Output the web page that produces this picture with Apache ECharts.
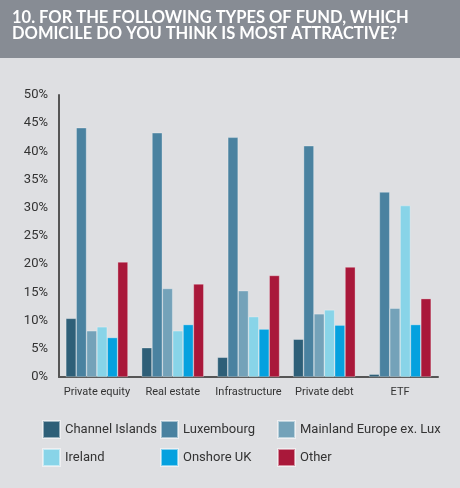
<!DOCTYPE html>
<html>
<head>
<meta charset="utf-8">
<script src="https://cdn.jsdelivr.net/npm/echarts@6/dist/echarts.min.js"></script>
<style>
  html, body { margin: 0; padding: 0; background: #dedfe2; }
  #chart { width: 460px; height: 488px; }
</style>
</head>
<body>
<div id="chart"></div>
<script>
var categories = ['Private equity', 'Real estate', 'Infrastructure', 'Private debt', 'ETF'];
var channelIslands = [10.4, 5.2, 3.5, 6.7, 0.5];
var luxembourg = [44.2, 43.3, 42.5, 41.0, 32.8];
var mainlandEurope = [8.2, 15.7, 15.3, 11.2, 12.2];
var ireland = [8.9, 8.2, 10.7, 11.9, 30.4];
var onshoreUK = [7.0, 9.3, 8.5, 9.2, 9.3];
var other = [20.4, 16.5, 18.0, 19.5, 13.9];

var chart = echarts.init(document.getElementById('chart'));
var font = 'Roboto';

function bar(name, data, color) {
  return {
    name: name,
    type: 'bar',
    data: data,
    barGap: '0%',
    barCategoryGap: '18%',
    itemStyle: { color: color, borderColor: 'rgba(255,255,255,0.5)', borderWidth: 0.6 }
  };
}

function legend(left, names) {
  return {
    left: left, top: 415, orient: 'vertical',
    itemWidth: 17, itemHeight: 17, itemGap: 9,
    icon: 'rect',
    data: names,
    textStyle: { fontFamily: font, fontSize: 13, color: '#333' },
    selectedMode: false
  };
}

chart.setOption({
  backgroundColor: '#dedfe2',
  graphic: [{
    type: 'rect', left: 0, top: 0,
    shape: { width: 460, height: 58 },
    style: { fill: '#878c94' }
  }],
  title: {
    text: '10. FOR THE FOLLOWING TYPES OF FUND, WHICH\nDOMICILE DO YOU THINK IS MOST ATTRACTIVE?',
    left: 7, top: 5,
    textStyle: { color: '#fff', fontFamily: 'Lato', fontWeight: 'bold', fontSize: 16.5, lineHeight: 16 }
  },
  legend: [
    legend(37, ['Channel Islands', 'Ireland']),
    legend(155, ['Luxembourg', 'Onshore UK']),
    legend(272, ['Mainland Europe ex. Lux', 'Other'])
  ],
  grid: { left: 59, right: 22, top: 95, bottom: 111, containLabel: false },
  xAxis: {
    type: 'category',
    data: categories,
    axisLine: { lineStyle: { color: '#555', width: 2 } },
    axisTick: { show: false },
    axisLabel: { interval: 0, fontFamily: font, fontSize: 11, color: '#333', margin: 10 }
  },
  yAxis: {
    type: 'value',
    min: 0, max: 50, interval: 5,
    axisLine: { show: true, lineStyle: { color: '#555', width: 2 } },
    axisTick: { show: false },
    splitLine: { show: false },
    axisLabel: { formatter: '{value}%', fontFamily: font, fontSize: 13, color: '#333', margin: 11 }
  },
  series: [
    bar('Channel Islands', channelIslands, '#2e5f78'),
    bar('Luxembourg', luxembourg, '#4a82a0'),
    bar('Mainland Europe ex. Lux', mainlandEurope, '#74a2b9'),
    bar('Ireland', ireland, '#88d4e8'),
    bar('Onshore UK', onshoreUK, '#05a1df'),
    bar('Other', other, '#a9183a')
  ]
});
</script>
</body>
</html>
